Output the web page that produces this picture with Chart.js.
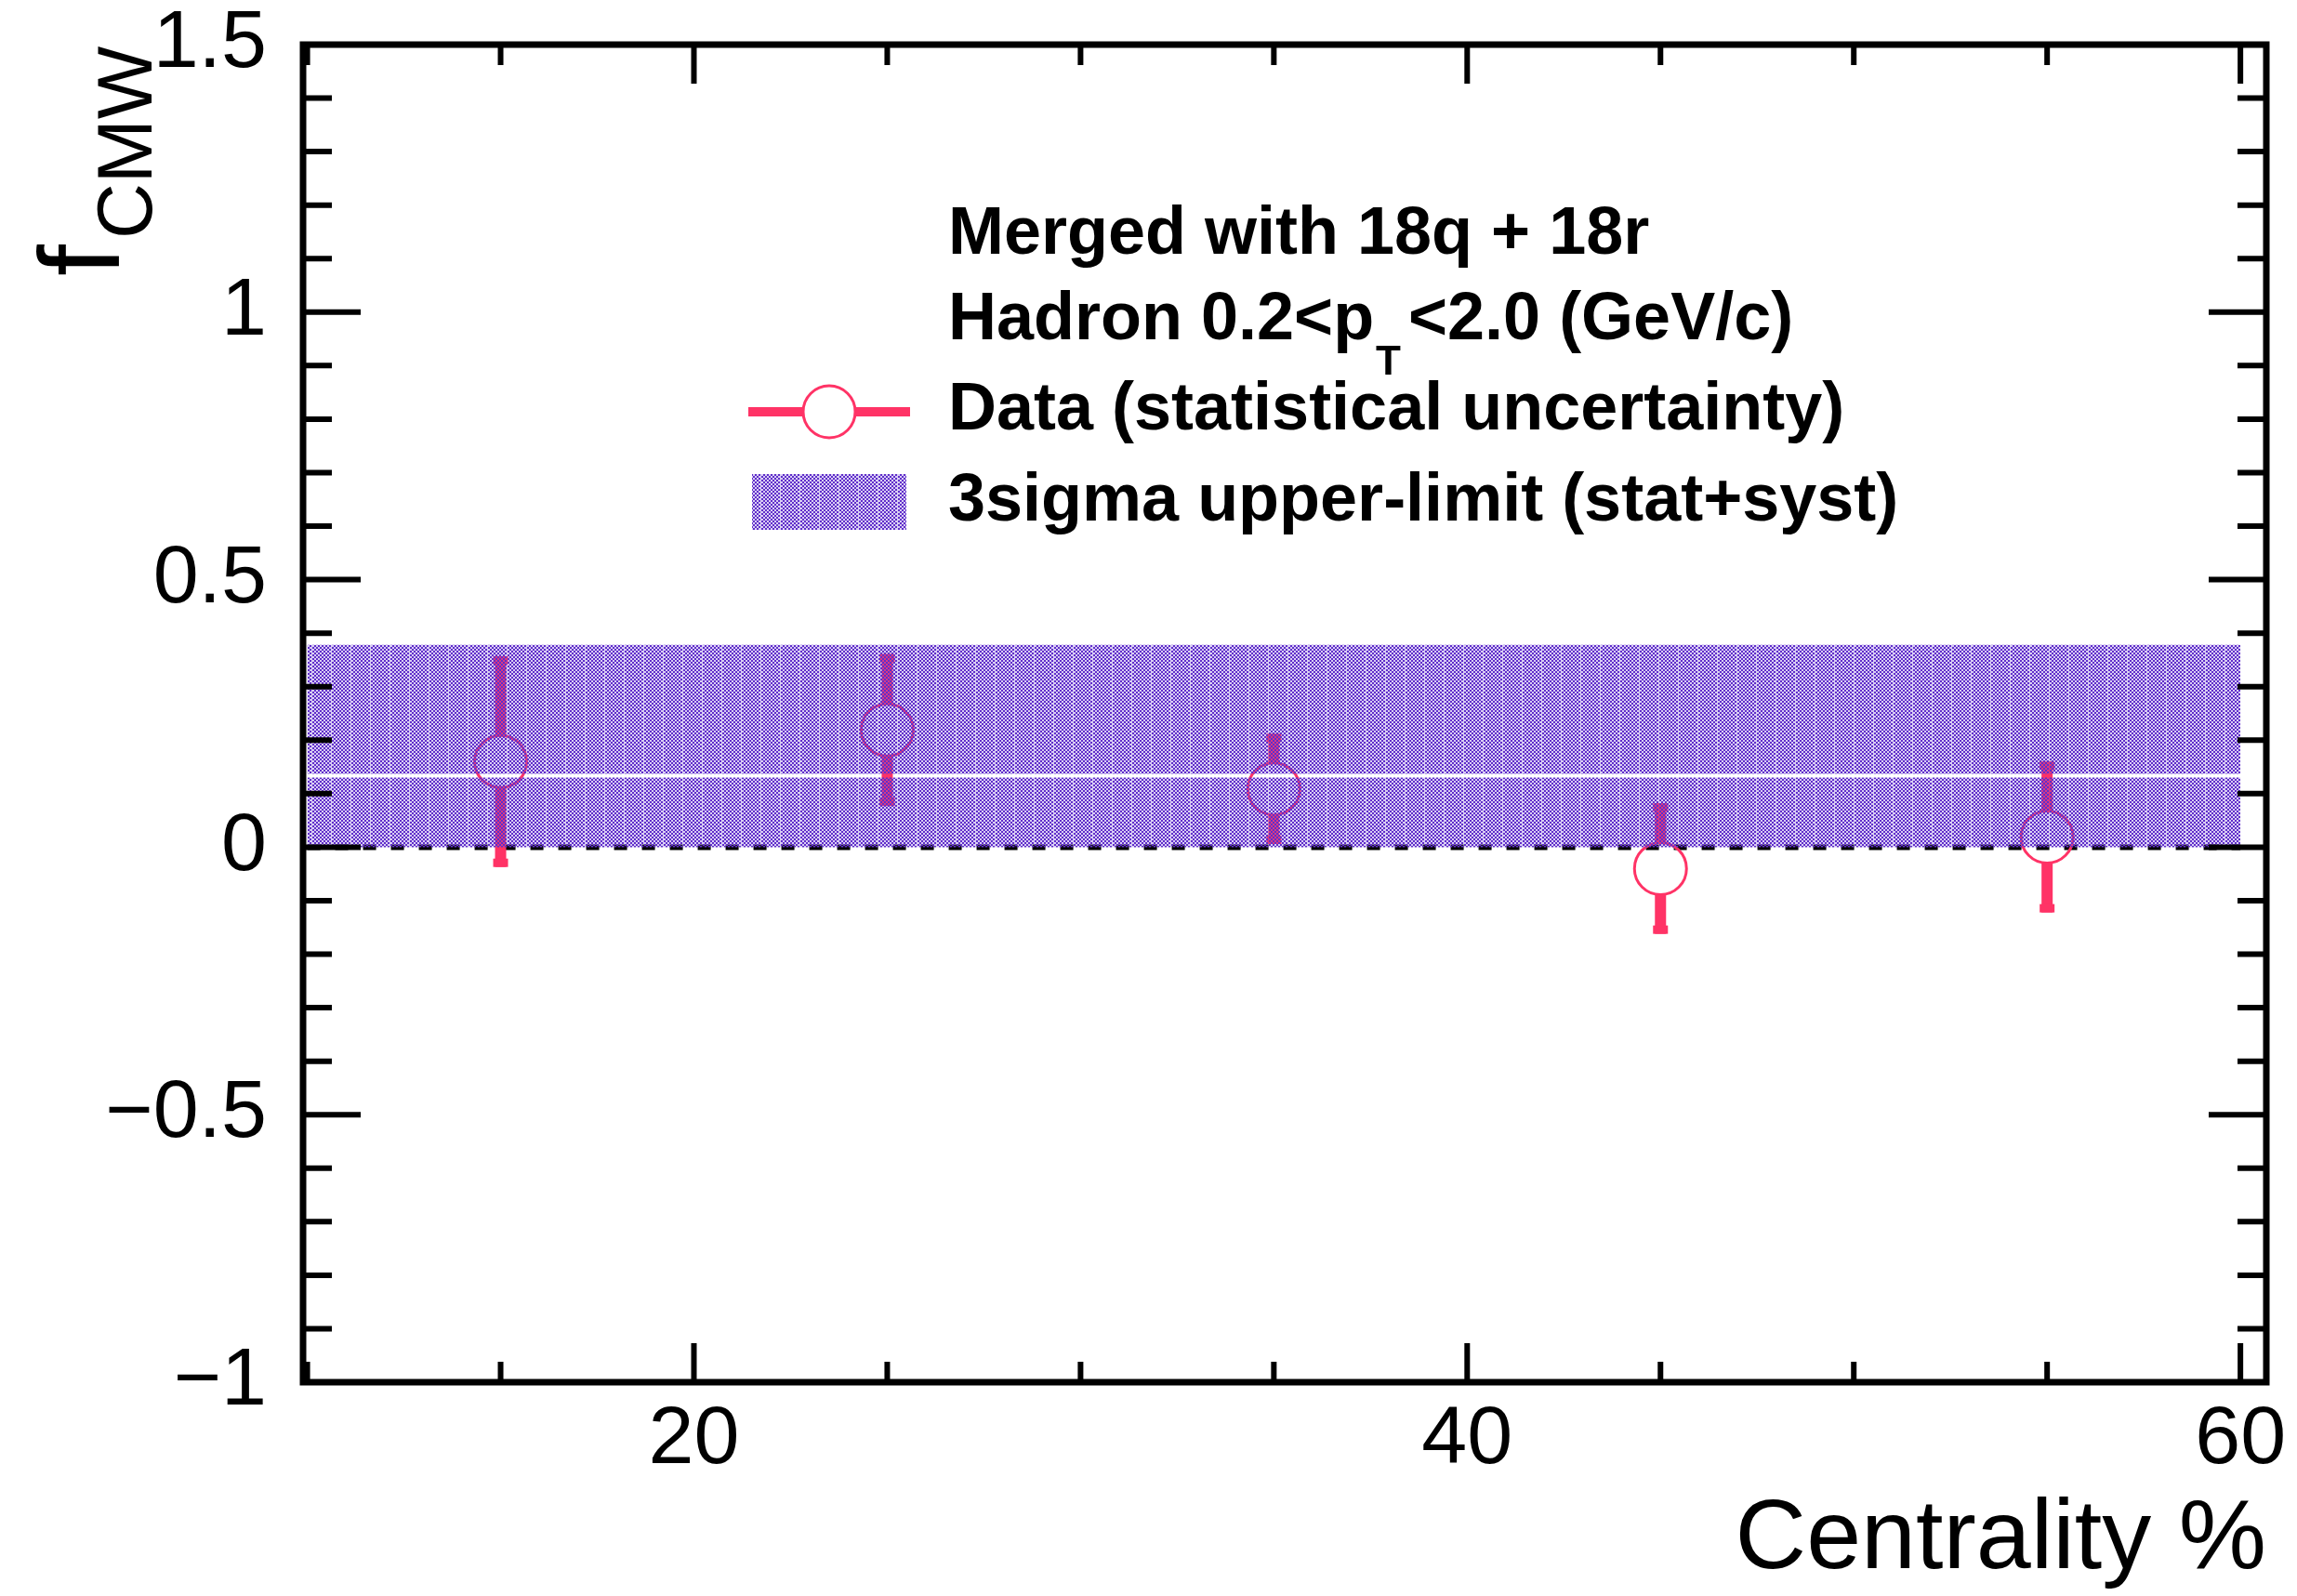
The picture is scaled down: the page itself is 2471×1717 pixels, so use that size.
<!DOCTYPE html>
<html>
<head>
<meta charset="utf-8">
<title>f_CMW vs centrality</title>
<script src="https://cdn.jsdelivr.net/npm/chart.js@4.4.1/dist/chart.umd.min.js"></script>
<style>
  html, body { margin: 0; padding: 0; background: #fff; }
  #wrap { width: 2471px; height: 1717px; }
</style>
</head>
<body>
<div id="wrap"><canvas id="cmwChart" width="2471" height="1717"></canvas></div>
<script>
// f_CMW per centrality bin, with statistical errors
var centrality = [15, 25, 35, 45, 55];
var fCmw = [0.160, 0.219, 0.109, -0.040, 0.019];
var statErr = [0.197, 0.142, 0.103, 0.122, 0.141];

// 3sigma upper limit band (stat+syst), filled in two pieces
var limitX = [10, 60];
var limitLowPart = [0, 0.130];
var limitHighPart = [0.137, 0.378];

// axes
var xRange = [9.89, 60.67];
var yRange = [-1, 1.5];
var xTickValues = [20, 40, 60];
var yTickValues = [-1, -0.5, 0, 0.5, 1, 1.5];

var FONT = '"Liberation Sans", Arial, Helvetica, sans-serif';
var PINK = '#ff3366';

var ctx = document.getElementById('cmwChart').getContext('2d');

// dotted purple fill, like the ROOT pattern
function makeHatch() {
  var c = document.createElement('canvas');
  c.width = 21; c.height = 4;
  var g = c.getContext('2d');
  for (var x = 0; x < 21; x++) {
    for (var y = 0; y < 4; y++) {
      if (x === 20) {
        g.fillStyle = 'rgba(120,80,215,0.3)';
      } else if ((((x >> 1) + (y >> 1)) & 1) === 0) {
        g.fillStyle = 'rgb(96,46,202)';
      } else {
        g.fillStyle = 'rgba(120,80,215,0.28)';
      }
      g.fillRect(x, y, 1, 1);
    }
  }
  return ctx.createPattern(c, 'repeat');
}
var hatch = makeHatch();

function bandPiece(part) {
  return {
    type: 'line',
    data: [{x: limitX[0], y: part[1]}, {x: limitX[1], y: part[1]}],
    showLine: true,
    borderWidth: 0,
    borderColor: 'rgba(0,0,0,0)',
    pointRadius: 0,
    backgroundColor: hatch,
    fill: {value: part[0]},
    order: 0
  };
}

var points = centrality.map(function(c, i) { return {x: c, y: fCmw[i]}; });

var rootFrame = {
  id: 'rootFrame',
  beforeDatasetsDraw: function(chart) {
    var c = chart.ctx, xs = chart.scales.x, ys = chart.scales.y;
    c.save();
    // dashed zero line
    c.strokeStyle = '#000';
    c.lineWidth = 6;
    c.setLineDash([14, 16]);
    c.beginPath();
    c.moveTo(xs.getPixelForValue(limitX[0]), ys.getPixelForValue(0));
    c.lineTo(xs.getPixelForValue(limitX[1]), ys.getPixelForValue(0));
    c.stroke();
    c.setLineDash([]);
    // error bars, left open inside the marker
    var r = 28;
    c.fillStyle = PINK;
    for (var i = 0; i < centrality.length; i++) {
      var px = xs.getPixelForValue(centrality[i]);
      var py = ys.getPixelForValue(fCmw[i]);
      var top = ys.getPixelForValue(fCmw[i] + statErr[i]);
      var bot = ys.getPixelForValue(fCmw[i] - statErr[i]);
      if (py - r > top) c.fillRect(px - 6, top, 12, py - r - top);
      if (bot > py + r) c.fillRect(px - 6, py + r, 12, bot - py - r);
      c.fillRect(px - 8, top, 16, 9);
      c.fillRect(px - 8, bot - 9, 16, 9);
    }
    c.restore();
  },
  afterDraw: function(chart) {
    var c = chart.ctx, xs = chart.scales.x, ys = chart.scales.y;
    var a = chart.chartArea;
    var v, p;
    c.save();
    c.strokeStyle = '#000';
    c.lineCap = 'butt';

    // ticks on all four sides, pointing inward
    c.lineWidth = 6;
    c.beginPath();
    for (v = 10; v <= 60; v += 5) {
      p = xs.getPixelForValue(v);
      var xl = (v % 20 === 0) ? 42 : 22;
      c.moveTo(p, a.bottom); c.lineTo(p, a.bottom - xl);
      c.moveTo(p, a.top); c.lineTo(p, a.top + xl);
    }
    for (var k = -10; k <= 15; k++) {
      v = k / 10;
      p = ys.getPixelForValue(v);
      var yl = (k % 5 === 0) ? 62 : 31;
      c.moveTo(a.left, p); c.lineTo(a.left + yl, p);
      c.moveTo(a.right, p); c.lineTo(a.right - yl, p);
    }
    c.stroke();

    // frame
    c.lineWidth = 7;
    c.strokeRect(a.left, a.top, a.right - a.left, a.bottom - a.top);

    // y axis title f_CMW
    c.fillStyle = '#000';
    c.textAlign = 'left';
    c.textBaseline = 'alphabetic';
    c.translate(128, 297);
    c.rotate(-Math.PI / 2);
    c.font = '122px ' + FONT;
    c.fillText('f', 0, 0);
    var fw = c.measureText('f').width;
    c.font = '83px ' + FONT;
    c.fillText('CMW', fw + 6, 35);
    c.setTransform(1, 0, 0, 1, 0, 0);

    // legend
    var lx = 1020;
    c.font = 'bold 72px ' + FONT;
    c.fillText('Merged with 18q + 18r', lx, 273);
    var pre = 'Hadron 0.2<p';
    c.fillText(pre, lx, 365);
    var w1 = c.measureText(pre).width;
    c.font = 'bold 44px ' + FONT;
    c.fillText('T', lx + w1 + 2, 403);
    var wT = c.measureText('T').width;
    c.font = 'bold 72px ' + FONT;
    c.fillText('<2.0 (GeV/c)', lx + w1 + wT + 10, 365);
    c.fillText('Data (statistical uncertainty)', lx, 462);
    c.fillText('3sigma upper-limit (stat+syst)', lx, 560);

    // legend marker: line with open circle
    c.fillStyle = PINK;
    c.fillRect(805, 438, 59, 10);
    c.fillRect(921, 438, 58, 10);
    c.strokeStyle = PINK;
    c.lineWidth = 3;
    c.beginPath();
    c.arc(892, 443, 28, 0, Math.PI * 2);
    c.stroke();

    // legend box for the band
    c.fillStyle = hatch;
    c.fillRect(809, 510, 166, 60);
    c.restore();
  }
};

var chart = new Chart(ctx, {
  type: 'scatter',
  data: {
    datasets: [
      {
        label: 'Data (statistical uncertainty)',
        data: points,
        pointStyle: 'circle',
        pointRadius: 28,
        pointBorderWidth: 3,
        borderColor: PINK,
        backgroundColor: 'rgba(0,0,0,0)',
        showLine: false,
        order: 1
      },
      bandPiece(limitLowPart),
      bandPiece(limitHighPart)
    ]
  },
  options: {
    responsive: false,
    animation: false,
    devicePixelRatio: 1,
    layout: { padding: { top: 48, right: 33, left: 0, bottom: 0 } },
    plugins: { legend: { display: false }, tooltip: { enabled: false } },
    scales: {
      x: {
        type: 'linear',
        min: xRange[0],
        max: xRange[1],
        grid: { display: false, drawTicks: false },
        border: { display: false },
        afterBuildTicks: function(s) { s.ticks = xTickValues.map(function(v) { return {value: v}; }); },
        afterFit: function(s) {
          s.height = 230;
          s.paddingLeft = 0; s.paddingRight = 0;
        },
        ticks: {
          autoSkip: false, maxRotation: 0, padding: 10, color: '#000',
          font: { family: FONT, size: 88 }
        },
        title: {
          display: true, text: 'Centrality %', align: 'end', color: '#000',
          font: { family: FONT, size: 106, lineHeight: 1 },
          padding: { top: 0, bottom: 6 }
        }
      },
      y: {
        type: 'linear',
        min: yRange[0],
        max: yRange[1],
        grid: { display: false, drawTicks: false },
        border: { display: false },
        afterBuildTicks: function(s) { s.ticks = yTickValues.map(function(v) { return {value: v}; }); },
        afterFit: function(s) {
          s.width = 326;
          s.paddingTop = 0; s.paddingBottom = 0;
        },
        ticks: {
          autoSkip: false, padding: 39, color: '#000',
          font: { family: FONT, size: 88 },
          callback: function(v) { return v < 0 ? '\u2212' + Math.abs(v) : String(v); }
        }
      }
    }
  },
  plugins: [rootFrame]
});
</script>
</body>
</html>
